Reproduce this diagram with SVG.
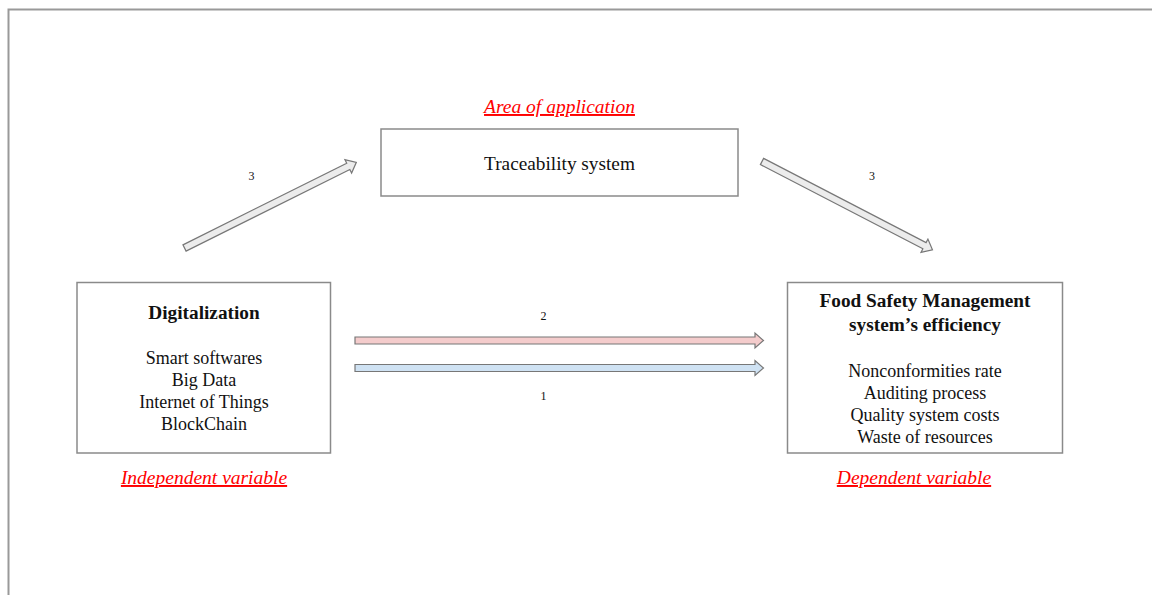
<svg xmlns="http://www.w3.org/2000/svg" width="1152" height="595" viewBox="0 0 1152 595">
<style>
.box{fill:#fff;stroke:#8a8a8a;stroke-width:1.5}
.t{font-family:"Liberation Serif",serif;font-size:18px;fill:#111;text-anchor:middle}
.b{font-weight:bold;font-size:19.3px}
.big{font-size:19.3px}
.lab{font-family:"Liberation Serif",serif;font-size:19.5px;font-style:italic;fill:#f00;text-anchor:middle;text-decoration:underline}
.n{font-family:"Liberation Serif",serif;font-size:12px;fill:#111;text-anchor:middle}
.arr{stroke:#777;stroke-width:1.2;stroke-linejoin:miter}
</style>
<defs>
<polygon id="diag" points="0,-3.5 183,-3.5 183,-7.5 192,0 183,7.5 183,3.5 0,3.5"/>
</defs>
<rect width="1152" height="595" fill="#fff"/>
<path d="M8.5,595 V9.5 H1152" fill="none" stroke="#999" stroke-width="2"/>

<g id="traceability">
<rect class="box" x="381" y="129" width="357" height="67"/>
<text class="t big" x="559.5" y="170">Traceability system</text>
</g>
<g id="area-label">
<text class="lab" x="559.5" y="113">Area of application</text>
</g>

<g id="digitalization">
<rect class="box" x="77" y="282.5" width="253.5" height="170.5"/>
<text class="t b" x="204" y="319">Digitalization</text>
<text class="t" x="204" y="364">Smart softwares</text>
<text class="t" x="204" y="386">Big Data</text>
<text class="t" x="204" y="408">Internet of Things</text>
<text class="t" x="204" y="430">BlockChain</text>
</g>
<g id="independent-label">
<text class="lab" x="204" y="484">Independent variable</text>
</g>

<g id="fsms">
<rect class="box" x="787.5" y="282.5" width="275" height="170.5"/>
<text class="t b" x="925" y="307">Food Safety Management</text>
<text class="t b" x="925" y="331">system’s efficiency</text>
<text class="t" x="925" y="377">Nonconformities rate</text>
<text class="t" x="925" y="399">Auditing process</text>
<text class="t" x="925" y="421">Quality system costs</text>
<text class="t" x="925" y="443">Waste of resources</text>
</g>
<g id="dependent-label">
<text class="lab" x="914" y="484">Dependent variable</text>
</g>

<g id="connectors">
<use href="#diag" class="arr" fill="#ececec" transform="translate(184.5,248) rotate(-26.5)"/>
<use href="#diag" class="arr" fill="#ececec" transform="translate(762,161.5) rotate(27.4)"/>
<polygon class="arr" fill="#f4cccc" points="355,337 755,337 755,333 763.5,340.5 755,348 755,344 355,344"/>
<polygon class="arr" fill="#cfe2f3" points="355,364.5 755,364.5 755,360.5 763.5,368 755,375.5 755,371.5 355,371.5"/>
<text class="n" x="251.5" y="180">3</text>
<text class="n" x="872" y="180">3</text>
<text class="n" x="543.5" y="320">2</text>
<text class="n" x="543.5" y="400">1</text>
</g>
</svg>
